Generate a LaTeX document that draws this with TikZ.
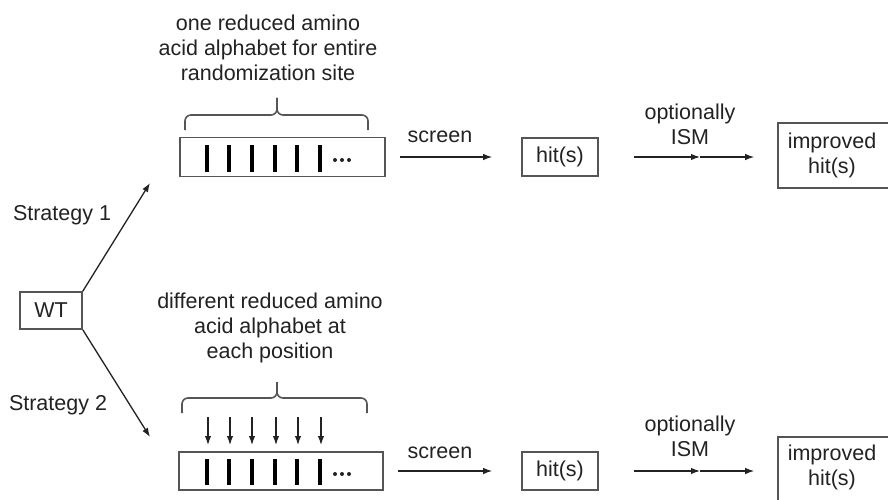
\documentclass[tikz,border=0pt]{standalone}
\usepackage{fontspec}
\setmainfont{Liberation Sans}
\usepackage{tikz}
\usetikzlibrary{shapes,arrows.meta,positioning}

\definecolor{linegray}{HTML}{555555}
\definecolor{txtgray}{HTML}{222222}

\begin{document}
\begin{tikzpicture}[x=1pt,y=-1pt,
  every node/.style={font=\fontsize{21.5}{25}\selectfont,text=txtgray,align=center,inner sep=0pt},
  box/.style={draw=linegray,line width=1.6pt},
  arr/.style={draw=txtgray,line width=1.3pt,-{Latex[length=9pt,width=6.5pt]}},
  brc/.style={draw=linegray,line width=1.6pt,rounded corners=6pt},
  bar/.style={line width=3.2pt,black}]
\path[use as bounding box,clip] (0,0) rectangle (888,500);

% start
\node[box,minimum width=62pt,minimum height=37pt] (wt) at (51,310.5) {WT};
\node (st1) at (62,215) {Strategy 1};
\node (st2) at (58,405) {Strategy 2};
\coordinate (s1end) at (150,183);
\coordinate (s2end) at (150,437);
\draw[arr] (wt.north east) -- (s1end);
\draw[arr] (wt.south east) -- (s2end);

% strategy 1
\node (descA) at (268,48) {one reduced amino\\acid alphabet for entire\\randomization site};
\draw[brc] (185,130) -- (185,115) -- (277,115) -- (277,98);
\draw[brc] (368,130) -- (368,115) -- (277,115) -- (277,98);
\node[box,minimum width=205pt,minimum height=39pt] (libA) at (282.5,157) {};
\foreach \x in {207,229,252,275,297,320}
  \draw[bar] (\x,145) -- (\x,172);
\foreach \x in {335,342,349}
  \fill[txtgray] (\x,160) circle (2pt);
\node[box,minimum width=76pt,minimum height=38pt] (hitA) at (560,157) {hit(s)};
\node (scrA) at (440,137) {screen};
\draw[arr,shorten <=14pt,shorten >=29pt] (libA.east) -- (hitA.west);
\node (optA) at (690,124.5) {optionally\\ISM};
\node[box,minimum width=160pt,minimum height=65pt] (impA) at (858,155.5) {};
\node (impAtxt) at (832,155) {improved\\hit(s)};
\coordinate (ismA) at (700,157);
\draw[arr,shorten <=35pt] (hitA.east) -- (ismA);
\draw[arr] (ismA) -- ([xshift=-23pt]ismA -| impA.west);

% strategy 2
\node (descB) at (270,327.5) {different reduced amino\\acid alphabet at\\each position};
\draw[brc] (182,413) -- (182,398) -- (277,398) -- (277,382);
\draw[brc] (367,413) -- (367,398) -- (277,398) -- (277,382);
\foreach \x in {208,230,252,276,298,321}
  \draw[arr] (\x,417) -- (\x,445);
\node[box,minimum width=204pt,minimum height=38pt] (libB) at (281,471) {};
\foreach \x in {207,229,252,275,297,320}
  \draw[bar] (\x,459) -- (\x,485);
\foreach \x in {335,342,349}
  \fill[txtgray] (\x,474) circle (2pt);
\node[box,minimum width=76pt,minimum height=38pt] (hitB) at (560,471) {hit(s)};
\node (scrB) at (440,453) {screen};
\draw[arr,shorten <=14pt,shorten >=29pt] (libB.east) -- (hitB.west);
\node (optB) at (690,436.5) {optionally\\ISM};
\node[box,minimum width=160pt,minimum height=100pt] (impB) at (858,487) {};
\node (impBtxt) at (832,467.5) {improved\\hit(s)};
\coordinate (ismB) at (700,471);
\draw[arr,shorten <=35pt] (hitB.east) -- (ismB);
\draw[arr] (ismB) -- ([xshift=-23pt]ismB -| impB.west);
\end{tikzpicture}
\end{document}
